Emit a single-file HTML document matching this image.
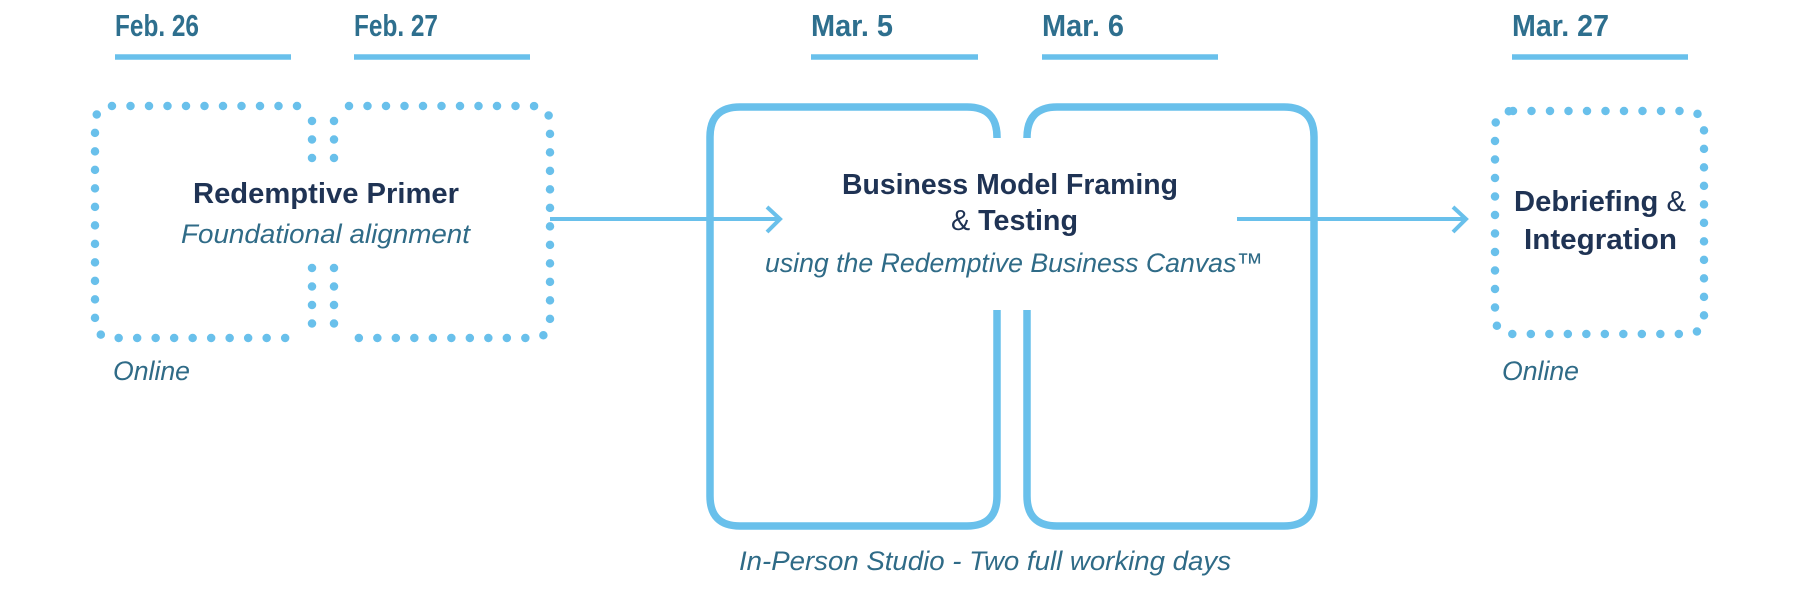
<!DOCTYPE html>
<html><head><meta charset="utf-8"><style>
html,body{margin:0;padding:0;background:#fff;}
svg{display:block;}
.d{font-family:"Liberation Sans Narrow","Liberation Sans",sans-serif;font-weight:bold;fill:#2e6f8e;font-size:31px;}
.b{font-family:"Liberation Sans Narrow","Liberation Sans",sans-serif;font-weight:bold;fill:#1f3354;font-size:29px;}
.i{font-family:"Liberation Sans Narrow","Liberation Sans",sans-serif;font-style:italic;fill:#2f6b87;font-size:27px;}
.amp{font-weight:normal;}
</style></head><body>
<svg width="1811" height="596" viewBox="0 0 1811 596" xmlns="http://www.w3.org/2000/svg">
<g fill="none" stroke="#69c0eb">
 <g stroke-width="5.5">
  <line x1="115" y1="57" x2="291" y2="57"/>
  <line x1="354" y1="57" x2="530" y2="57"/>
  <line x1="811" y1="57" x2="978" y2="57"/>
  <line x1="1042" y1="57" x2="1218" y2="57"/>
  <line x1="1512" y1="57" x2="1688" y2="57"/>
 </g>
 <g stroke-width="8.5" stroke-linecap="round" stroke-dasharray="0 18.5">
  <path d="M312 121 L312 159"/><path d="M312 268 L312 325"/>
  <path d="M334 121 L334 159"/><path d="M334 268 L334 325"/>
  <path d="M297 106 L113 106 Q95 106 95 124 L95 320 Q95 338 113 338 L297 338"/>
  <path d="M349 106 L532 106 Q550 106 550 124 L550 320 Q550 338 532 338 L349 338"/>
  <path d="M1513 111 L1686 111 Q1704 111 1704 129 L1704 316 Q1704 334 1686 334 L1513 334 Q1495 334 1495 316 L1495 129 Q1495 111 1513 111"/>
 </g>
 <g stroke-width="7.5">
  <path d="M997 138 L997 137 Q997 107 967 107 L740 107 Q710 107 710 137 L710 496 Q710 526 740 526 L967 526 Q997 526 997 496 L997 310"/>
  <path d="M1027 138 Q1027 107 1057 107 L1284 107 Q1314 107 1314 137 L1314 496 Q1314 526 1284 526 L1057 526 Q1027 526 1027 496 L1027 310"/>
 </g>
 <g stroke-width="4">
  <line x1="550" y1="219" x2="779" y2="219"/>
  <polyline points="767,207 780,219 767,232"/>
  <line x1="1237" y1="219" x2="1465" y2="219"/>
  <polyline points="1453,207 1466,219 1453,232"/>
 </g>
</g>
<text class="d" x="115" y="36" textLength="84" lengthAdjust="spacingAndGlyphs">Feb. 26</text>
<text class="d" x="354" y="36" textLength="84" lengthAdjust="spacingAndGlyphs">Feb. 27</text>
<text class="d" x="811" y="36" textLength="82" lengthAdjust="spacingAndGlyphs">Mar. 5</text>
<text class="d" x="1042" y="36" textLength="82" lengthAdjust="spacingAndGlyphs">Mar. 6</text>
<text class="d" x="1512" y="36" textLength="97" lengthAdjust="spacingAndGlyphs">Mar. 27</text>

<text class="b" x="193" y="203" textLength="266" lengthAdjust="spacingAndGlyphs">Redemptive Primer</text>
<text class="i" x="181" y="243" textLength="289" lengthAdjust="spacingAndGlyphs">Foundational alignment</text>
<text class="i" x="113" y="380" textLength="77" lengthAdjust="spacingAndGlyphs">Online</text>

<text class="b" x="842" y="194" textLength="336" lengthAdjust="spacingAndGlyphs">Business Model Framing</text>
<text class="b" x="951" y="230" textLength="127" lengthAdjust="spacingAndGlyphs"><tspan class="amp">&amp;</tspan> Testing</text>
<text class="i" x="765" y="272" textLength="498" lengthAdjust="spacingAndGlyphs">using the Redemptive Business Canvas™</text>

<text class="b" x="1514" y="211" textLength="172" lengthAdjust="spacingAndGlyphs">Debriefing <tspan class="amp">&amp;</tspan></text>
<text class="b" x="1524" y="249" textLength="153" lengthAdjust="spacingAndGlyphs">Integration</text>
<text class="i" x="1502" y="380" textLength="77" lengthAdjust="spacingAndGlyphs">Online</text>

<text class="i" x="739" y="570" textLength="492" lengthAdjust="spacingAndGlyphs">In-Person Studio - Two full working days</text>
</svg>
</body></html>
